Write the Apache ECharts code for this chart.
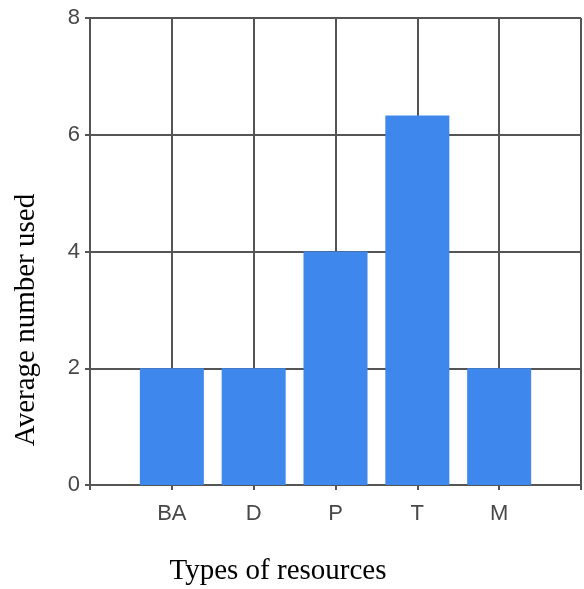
<!DOCTYPE html>
<html>
<head>
<meta charset="utf-8">
<script src="https://cdn.jsdelivr.net/npm/echarts@6/dist/echarts.min.js"></script>
<style>
html,body{margin:0;padding:0;background:#fff;}
#chart{width:584px;height:589px;}
</style>
</head>
<body>
<div id="chart"></div>
<script>
var categories = ['BA', 'D', 'P', 'T', 'M'];
var values = [2, 2, 4, 6.33, 2];
var yTicks = [0, 2, 4, 6, 8];

var axisCategories = [''].concat(categories, ['']);
var axisValues = [null].concat(values, [null]);

var gridColor = '#555555';
var labelColor = '#484848';
var chart = echarts.init(document.getElementById('chart'), null, {renderer: 'canvas'});
chart.setOption({
  animation: false,
  backgroundColor: '#ffffff',
  grid: {left: 90, right: 1, top: 18, bottom: 104, containLabel: false},
  xAxis: {
    type: 'category',
    data: axisCategories,
    boundaryGap: false,
    axisLine: {show: true, lineStyle: {color: gridColor, width: 2}},
    axisTick: {show: true, length: 5, lineStyle: {color: gridColor, width: 2}},
    axisLabel: {show: true, margin: 18, color: labelColor, fontFamily: 'Liberation Sans', fontSize: 22, interval: 0},
    splitLine: {show: true, lineStyle: {color: gridColor, width: 2}}
  },
  yAxis: {
    type: 'value',
    min: yTicks[0],
    max: yTicks[yTicks.length - 1],
    interval: yTicks[1] - yTicks[0],
    axisLine: {show: true, lineStyle: {color: gridColor, width: 2}},
    axisTick: {show: true, length: 5, lineStyle: {color: gridColor, width: 2}},
    axisLabel: {show: true, margin: 10, color: labelColor, fontFamily: 'Liberation Sans', fontSize: 22},
    splitLine: {show: true, lineStyle: {color: gridColor, width: 2}}
  },
  series: [{
    type: 'bar',
    data: axisValues,
    barWidth: 64,
    itemStyle: {color: '#3d87ed'},
    z: 3
  }],
  graphic: [
    {
      type: 'text',
      x: 278, y: 571,
      style: {text: 'Types of resources', font: '29px "Liberation Serif"', fill: '#000', align: 'center', verticalAlign: 'middle'}
    },
    {
      type: 'text',
      x: 26, y: 320,
      rotation: Math.PI / 2,
      style: {text: 'Average number used', font: '29px "Liberation Serif"', fill: '#000', align: 'center', verticalAlign: 'middle'}
    }
  ]
});
</script>
</body>
</html>
